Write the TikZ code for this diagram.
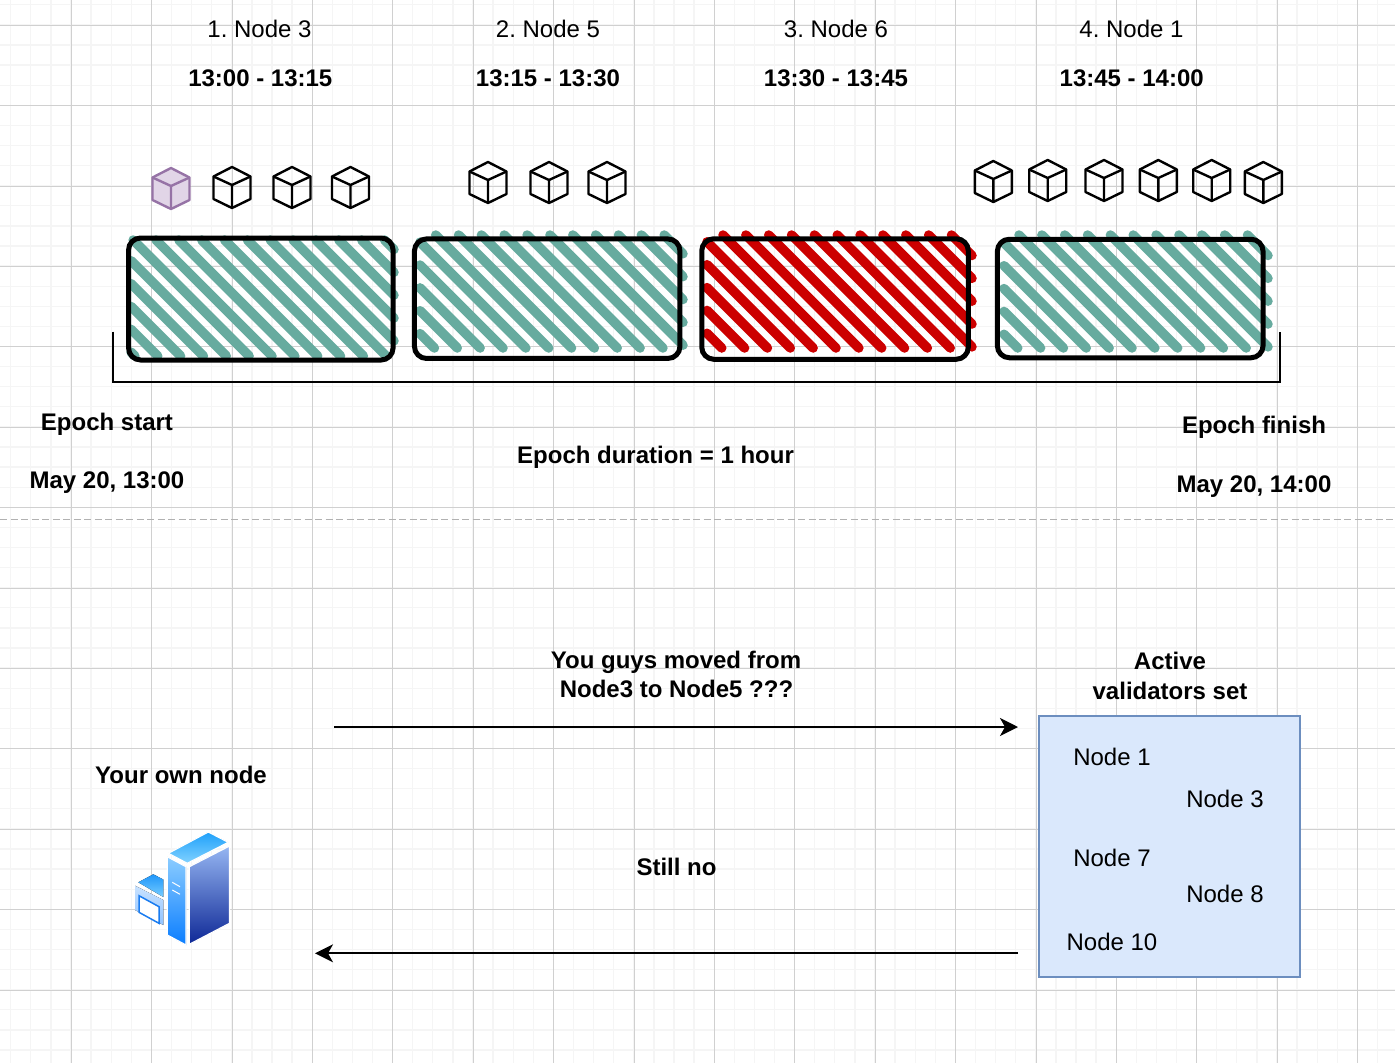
\documentclass[tikz,border=0pt]{standalone}
\usepackage{fontspec}
\setmainfont{Liberation Sans}
\usepackage{tikz}
\usetikzlibrary{arrows.meta}
\definecolor{mgrid}{HTML}{D0D0D0}
\definecolor{mgridlight}{HTML}{F5F5F5}
\definecolor{mgreen}{HTML}{67AB9F}
\definecolor{mred}{HTML}{CC0000}
\definecolor{mpurple}{HTML}{9673A6}
\definecolor{mpurplelight}{HTML}{E1D5E7}
\definecolor{mblue}{HTML}{DAE8FC}
\definecolor{mblueline}{HTML}{6C8EBF}
\tikzset{txt/.style = {anchor = base, inner sep = 0, font = \fontsize{24}{29}\selectfont}}
\tikzset{btxt/.style = {txt, font = \fontsize{24}{29}\selectfont\bfseries}}
\tikzset{slotbox/.style = {draw, line width = 5, rounded corners = 12, inner sep = 0}}
\tikzset{cubeline/.style = {line width = 2.4, line join = round}}
\tikzset{face/.style = {draw = white, line width = 1.2, line join = round}}
\tikzset{flow/.style = {line width = 2, -{Stealth[length = 18, width = 18, inset = 5]}}}
\newcommand{\hatchbox}[6]{%
  \foreach \k in {-8, ..., 14} {
    \pgfmathsetmacro{\cc}{#5 + 22.85 * \k}
    \pgfmathsetmacro{\xs}{max(#1, \cc + #2)}
    \pgfmathsetmacro{\xe}{min(#3, \cc + #4)}
    \ifdim \xs pt < \xe pt
      \draw [#6, line width = 9.5, line cap = round] (\xs, \xs - \cc) -- (\xe, \xe - \cc);
    \fi
  }}
\newcommand{\blockcube}[3]{%
  \draw [cubeline, #3] (#1, #2) -- (#1 + 18.5, #2 + 9.5) -- (#1 + 18.5, #2 + 32)
    -- (#1, #2 + 41) -- (#1 - 18.5, #2 + 32) -- (#1 - 18.5, #2 + 9.5) -- cycle;
  \draw [cubeline, #3] (#1 - 18.5, #2 + 9.5) -- (#1, #2 + 18) -- (#1 + 18.5, #2 + 9.5)
    (#1, #2 + 18) -- (#1, #2 + 41);}

\begin{document}
\frenchspacing
\begin{tikzpicture}[x = 1pt, y = -1pt]
  \useasboundingbox (0, 0) rectangle (1395, 1063);

  \foreach \k in {0, ..., 69} {
    \draw [mgridlight, line width = 1.3] (10.7 + 20.1 * \k, 0) -- (10.7 + 20.1 * \k, 1063);
  }
  \foreach \k in {0, ..., 52} {
    \draw [mgridlight, line width = 1.3] (0, 4.8 + 20.1 * \k) -- (1395, 4.8 + 20.1 * \k);
  }
  \foreach \k in {0, ..., 16} {
    \draw [mgrid] (71 + 80.4 * \k, 0) -- (71 + 80.4 * \k, 1063);
  }
  \foreach \k in {0, ..., 12} {
    \draw [mgrid] (0, 24.9 + 80.4 * \k) -- (1395, 24.9 + 80.4 * \k);
  }

  \node [txt] (nodeA) at (259.5, 37.5) {1. Node 3};
  \node [btxt] (timeA) at (260.3, 86.5) {13:00 - 13:15};
  \node [txt] (nodeB) at (548, 37.5) {2. Node 5};
  \node [btxt] (timeB) at (548, 86.5) {13:15 - 13:30};
  \node [txt] (nodeC) at (836, 37.5) {3. Node 6};
  \node [btxt] (timeC) at (836, 86.5) {13:30 - 13:45};
  \node [txt] (nodeD) at (1131.5, 37.5) {4. Node 1};
  \node [btxt] (timeD) at (1131.7, 86.5) {13:45 - 14:00};

  \blockcube{171}{168}{draw = mpurple, fill = mpurplelight}
  \foreach \cx/\cy in {232/167, 292/167, 350.5/167, 488/162, 549/162, 607/162,
      993.3/161, 1047.7/160, 1104/160, 1158.3/160, 1211.7/160, 1263.3/162} {
    \blockcube{\cx}{\cy}{draw = black}
  }

  \hatchbox{131}{240}{394}{356}{-84}{mgreen}
  \hatchbox{420}{235}{683}{348}{200.7}{mgreen}
  \hatchbox{707}{235}{972}{348}{488}{mred}
  \hatchbox{1004}{235}{1268}{348}{784}{mgreen}

  \node [slotbox, minimum width = 264.5, minimum height = 122] (slotA) at (260.8, 299) {};
  \node [slotbox, minimum width = 265.5, minimum height = 119.5] (slotB) at (547.2, 298.7) {};
  \node [slotbox, minimum width = 266.5, minimum height = 120.5] (slotC) at (835, 299) {};
  \node [slotbox, minimum width = 265.7, minimum height = 118.5] (slotD) at (1130.2, 298.5) {};

  \coordinate (epochL) at (113, 331.5);
  \coordinate (epochR) at (1280, 331.5);
  \draw [line width = 1.5] (epochL) -- (113, 382) -- (1280, 382) -- (epochR);

  \node [btxt] (startA) at (107, 430.5) {Epoch start};
  \node [btxt] (startB) at (107, 488.5) {May 20, 13:00};
  \node [btxt] (duration) at (655.5, 463.5) {Epoch duration = 1 hour};
  \node [btxt] (finishA) at (1254, 433.5) {Epoch finish};
  \node [btxt] (finishB) at (1254, 492.5) {May 20, 14:00};

  \draw [mgrid!85!black, line width = 1.3, dash pattern = on 7 off 3.5] (0, 519.5) -- (1395, 519.5);

  \node [btxt] (moveA) at (676, 668.5) {You guys moved from};
  \node [btxt] (moveB) at (676.5, 697.5) {Node3 to Node5 ???};
  \node [btxt] (activeA) at (1170, 669.5) {Active};
  \node [btxt] (activeB) at (1170, 699.5) {validators set};
  \node [btxt] (ownnode) at (181, 783.5) {Your own node};
  \node [btxt] (stillno) at (676.5, 875.5) {Still no};

  \node [draw = mblueline, fill = mblue, line width = 2, inner sep = 0, minimum size = 261] (validators) at (1169.5, 846.5) {};

  \node [txt] (setA) at (1112, 765.5) {Node 1};
  \node [txt] (setB) at (1225, 807.5) {Node 3};
  \node [txt] (setC) at (1112, 866.5) {Node 7};
  \node [txt] (setD) at (1225, 902.5) {Node 8};
  \node [txt] (setE) at (1112, 950.5) {Node 10};

  \coordinate (askA) at (334, 727);
  \coordinate (askB) at (1018, 727);
  \coordinate (replyA) at (1018, 953.3);
  \coordinate (replyB) at (315, 953.3);
  \draw [flow] (askA) -- (askB);
  \draw [flow] (replyA) -- (replyB);

  \fill [face, top color = {rgb,255:red,30;green,160;blue,250}, bottom color = {rgb,255:red,130;green,210;blue,255}]
    (168.3, 853.3) -- (208.3, 832) -- (228.3, 842.3) -- (187.3, 863.3) -- cycle;
  \fill [face, top color = {rgb,255:red,140;green,205;blue,255}, bottom color = {rgb,255:red,10;green,125;blue,255}]
    (167.3, 856.7) -- (186, 866.7) -- (186, 945) -- (167.3, 935) -- cycle;
  \fill [face, top color = {rgb,255:red,150;green,182;blue,242}, bottom color = {rgb,255:red,14;green,40;blue,150}]
    (189.3, 866.7) -- (229.5, 846) -- (229.5, 923.3) -- (189.3, 944.3) -- cycle;
  \draw [white, line width = 1] (172.3, 882.3) -- (180, 886.7);
  \draw [white, line width = 1] (172.3, 890) -- (180, 894.3);
  \fill [face, draw = none, top color = {rgb,255:red,30;green,150;blue,250}, bottom color = {rgb,255:red,120;green,205;blue,255}]
    (138.3, 882.3) -- (153.3, 874.3) -- (163.3, 879.5) -- (163.3, 897) -- cycle;
  \fill [face, draw = none, top color = {rgb,255:red,200;green,226;blue,255}, bottom color = {rgb,255:red,145;green,195;blue,255}]
    (135, 885.7) -- (163.3, 900) -- (163.3, 925) -- (135, 910) -- cycle;
  \draw [fill = white, draw = {rgb,255:red,26;green,124;blue,240}, line width = 1.5]
    (139, 895.7) -- (159, 906.7) -- (159, 923.3) -- (139, 912.3) -- cycle;
\end{tikzpicture}
\end{document}
